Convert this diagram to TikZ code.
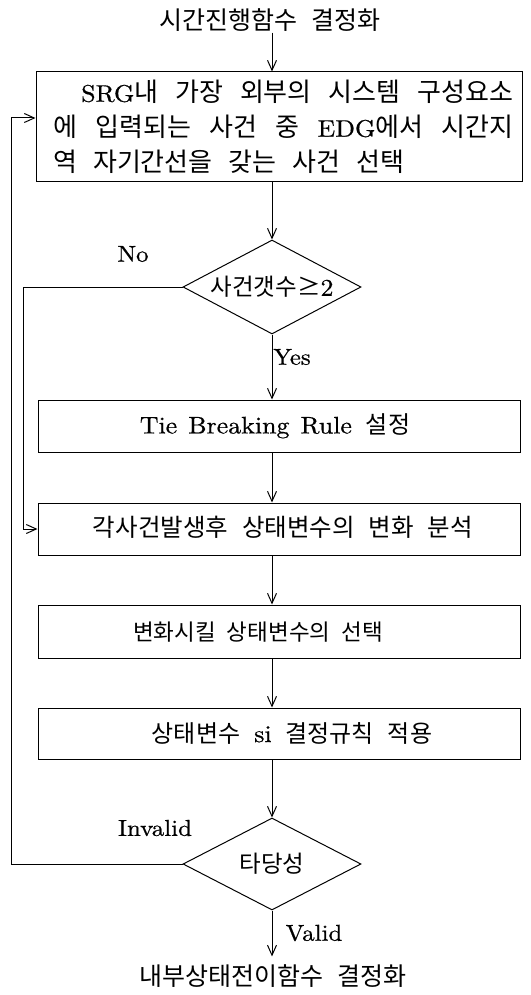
\documentclass[tikz,border=0pt]{standalone}
\usepackage{fontspec}
\setmainfont{lmroman10-regular.otf}[FakeStretch=1.08,FakeBold=0.6]
\newfontfamily\krf{Noto Sans CJK KR}
\usetikzlibrary{arrows.meta,shapes.geometric}
% Latin words inside Korean text
\newcommand\lat[1]{{\rmfamily\fontsize{24}{35}\selectfont\spaceskip=11pt plus 10pt\relax #1}}
% text fonts for boxes and for the start/end texts
\newcommand\krsize[1]{\krf\fontsize{#1}{35}\selectfont\spaceskip=14pt plus 20pt minus 3pt\relax}
\newcommand\krtitle{\krf\fontsize{25}{30}\selectfont\spaceskip=14pt\relax}

\begin{document}
\begin{tikzpicture}[x=1pt,y=-1pt,
  every node/.style={inner sep=0pt},
  flow/.style={line width=1pt,-{Straight Barb[length=10pt,width=9pt]}},
  box/.style={draw,line width=1pt,minimum width=482pt},
  decision/.style={draw,line width=1pt,shape=diamond,shape aspect=1.9,
                   minimum width=178pt,minimum height=94pt},
  kr/.style={font=\krsize{#1}},
  kr/.default=23.5,
  title/.style={font=\krtitle},
  lbl/.style={font=\rmfamily\fontsize{23}{25}\selectfont}]
\useasboundingbox (0,0) rectangle (530,995);

% start / end texts
\node[title,inner ysep=1pt] (start) at (270,20) {시간진행함수 결정화};
\node[title,inner ysep=8pt] (end) at (273,976) {내부상태전이함수 결정화};

% first step
\node[font={\krsize{26}\spaceskip=16pt plus 20pt minus 3pt\relax},align=left,anchor=west] (b1t) at (53,127)
  {\hspace*{28pt}\makebox[432pt][s]{\lat{SRG}내 가장 외부의 시스템 구성요소}\\
   \makebox[460pt][s]{에 입력되는 사건 중 \lat{EDG}에서 시간지}\\
   역 자기간선을 갖는 사건 선택};
\node[box,minimum width=486pt,minimum height=110pt] (b1) at (279,127) {};

% decisions
\node[decision,kr] (d1) at (272,287) {사건갯수≥\lat{2}};
\node[decision,kr,minimum height=92pt] (d2) at (272,864) {타당성};

% process boxes
\node[box,minimum height=52pt] (b2) at (279,426) {};
\node[kr=24] (b2t) at (275,426) {\lat{Tie Breaking Rule} 설정};
\node[box,minimum height=52pt] (b3) at (279,529) {};
\node[kr=24.5] (b3t) at (283,527) {각사건발생후 상태변수의 변화 분석};
\node[box,minimum height=53pt] (b4) at (279,631.5) {};
\node[font={\krsize{22.5}\spaceskip=11pt plus 10pt\relax}] (b4t) at (258,632) {변화시킬 상태변수의 선택};
\node[box,minimum height=51pt] (b5) at (279,733.5) {};
\node[kr=24] (b5t) at (292,733) {상태변수 \lat{si} 결정규칙 적용};

% branch labels
\node[lbl] (no) at (133,254) {No};
\node[lbl] (yes) at (292,357) {Yes};
\node[lbl] (inv) at (155,828) {Invalid};
\node[lbl] (val) at (314,933) {Valid};

% main flow
\draw[flow] (start.south -| d1.north) -- (b1.north -| d1.north);
\draw[flow] (b1.south -| d1.north) -- (d1.north);
\draw[flow] (d1.south) -- (b2.north -| d1.south);
\draw[flow] (b2.south -| d1.south) -- (b3.north -| d1.south);
\draw[flow] (b3.south -| d1.south) -- (b4.north -| d1.south);
\draw[flow] (b4.south -| d1.south) -- (b5.north -| d1.south);
\draw[flow] (b5.south -| d2.north) -- (d2.north);
\draw[flow] (d2.south) -- (end.north -| d2.south);

% feedback branches
\draw[flow] (d1.west) -- ([xshift=-159pt]d1.west) |- (b3.west);
\draw[flow] (d2.west) -- ([xshift=-171pt]d2.west) |- ([yshift=9pt]b1.west);
\end{tikzpicture}
\end{document}
